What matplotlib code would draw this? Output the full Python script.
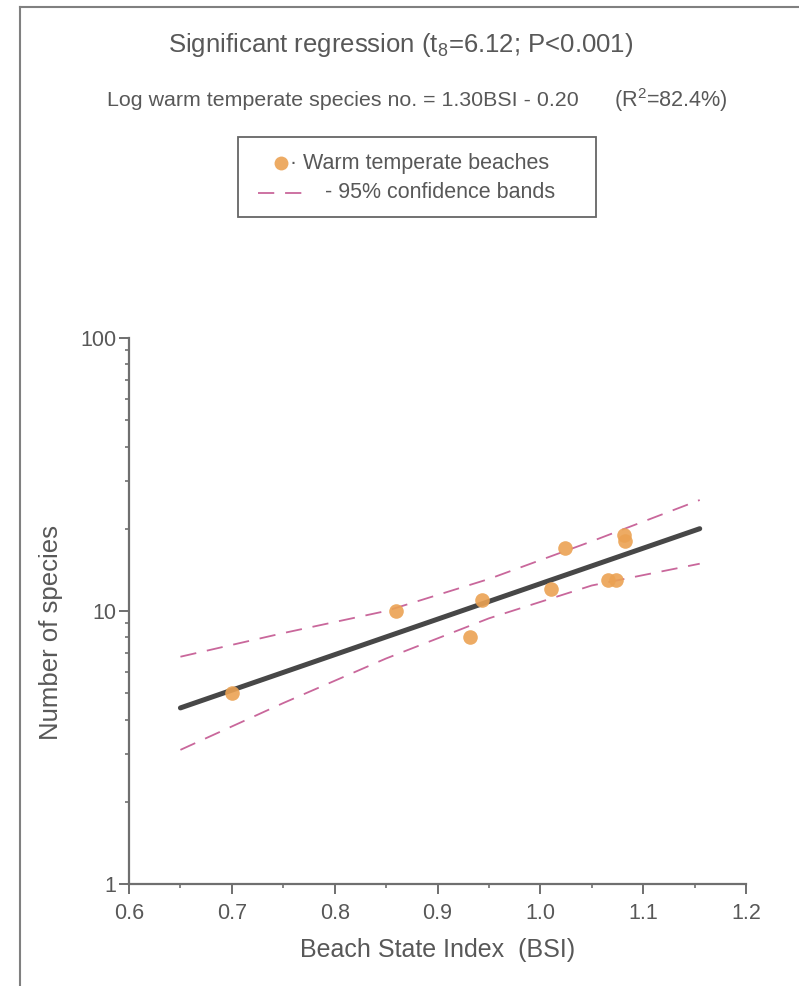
import numpy as np
import matplotlib
matplotlib.use("Agg")
import matplotlib.pyplot as plt
from matplotlib.lines import Line2D
from matplotlib.patches import Rectangle

plt.rcParams["font.family"] = ["Liberation Sans", "DejaVu Sans"]
plt.rcParams["mathtext.fontset"] = "custom"
plt.rcParams["mathtext.rm"] = "Liberation Sans"

# warm temperate beaches: beach state index vs species count
bsi = [0.700, 0.860, 0.932, 0.943, 1.010, 1.024, 1.066, 1.074, 1.082, 1.081]
species = [5, 10, 8, 11, 12, 17, 13, 13, 18, 19]

# fitted line: log10(N) = 1.30*BSI - 0.20
slope, intercept = 1.30, -0.20
fit_x = np.array([0.65, 1.155])

# 95% confidence bands
band_x = [0.65, 0.75, 0.85, 0.95, 1.05, 1.155]
band_upper = [6.8, 8.3, 10.0, 13.1, 18.0, 25.5]
band_lower = [3.1, 4.6, 6.7, 9.4, 12.4, 14.9]

xticks = [0.6, 0.7, 0.8, 0.9, 1.0, 1.1, 1.2]
yticks = [1, 10, 100]

TXT = "#585858"
AXC = "#6f6f6f"
DOT = "#EBA253"
BAND = "#C9679B"

W, H = 799, 986
fig = plt.figure(figsize=(W / 100, H / 100), dpi=100)
fig.patch.set_facecolor("white")

ax_bottom, ax_top = 884, 338
ax = fig.add_axes([129 / W, (H - ax_bottom) / H, (746 - 129) / W, (ax_bottom - ax_top) / H])
ax.set_yscale("log")
ax.set_xlim(0.6, 1.2)
ax.set_ylim(1, 100)

fit_y = 10 ** (slope * fit_x + intercept)
ax.plot(fit_x, fit_y, color="#474747", lw=3.6, solid_capstyle="round", zorder=3)
ax.plot(band_x, band_upper, color=BAND, lw=1.3, dashes=(9, 6), zorder=2)
ax.plot(band_x, band_lower, color=BAND, lw=1.3, dashes=(9, 6), zorder=2)
ax.plot(bsi, species, "o", ms=10.5, color=DOT, mec="none", alpha=0.9, zorder=4)

for s in ["top", "right"]:
    ax.spines[s].set_visible(False)
for s in ["left", "bottom"]:
    ax.spines[s].set_color(AXC)
    ax.spines[s].set_linewidth(1.6)

ax.set_xticks(xticks)
ax.set_xticklabels([f"{v:.1f}" for v in xticks])
ax.set_xticks(np.arange(0.65, 1.2, 0.1), minor=True)
ax.set_yticks(yticks)
ax.set_yticklabels([str(v) for v in yticks])
ax.tick_params(axis="both", which="major", direction="out", length=7, width=1.4,
               color=AXC, labelcolor=TXT, labelsize=15.5)
ax.tick_params(axis="x", which="major", pad=7)
ax.tick_params(axis="y", which="major", pad=2)
ax.tick_params(axis="both", which="minor", direction="out", length=3, width=1.2,
               color=AXC)
ax.set_xlabel("Beach State Index  (BSI)", fontsize=18, color=TXT, labelpad=10)
ax.set_ylabel("Number of species", fontsize=18.5, color=TXT)
# label sits a little below the axis middle
ax.yaxis.set_label_coords((63 - 129) / (746 - 129), (ax_bottom - 632) / (ax_bottom - ax_top))

# headings
fig.text(401 / W, 1 - 45 / H, r"Significant regression (t$_{\mathregular{8}}$=6.12; P<0.001)",
         ha="center", va="center", fontsize=18.5, color=TXT)
fig.text(107 / W, 1 - 100 / H, "Log warm temperate species no. = 1.30BSI - 0.20",
         ha="left", va="center", fontsize=15.4, color=TXT)
fig.text(614 / W, 1 - 100 / H, r"(R$^{\mathregular{2}}$=82.4%)",
         ha="left", va="center", fontsize=15.6, color=TXT)

# legend box
fig.add_artist(Rectangle((238 / W, 1 - 217 / H), (596 - 238) / W, 80 / H,
                         transform=fig.transFigure, fill=False, ec="#666666", lw=1.3))
fig.add_artist(Line2D([281 / W], [1 - 163 / H], marker="o", ms=10, color=DOT,
                      mec="none", alpha=0.9, transform=fig.transFigure))
fig.text(290 / W, 1 - 163 / H, "· Warm temperate beaches", ha="left", va="center",
         fontsize=15.5, color=TXT)
fig.add_artist(Line2D([258 / W, 302 / W], [1 - 193 / H, 1 - 193 / H], color=BAND,
                      lw=1.3, dashes=(9, 6), transform=fig.transFigure))
fig.text(325 / W, 1 - 193 / H, "- 95% confidence bands", ha="left", va="center",
         fontsize=15.5, color=TXT)

# page frame (top and left edges)
fig.add_artist(Line2D([20 / W, 20 / W], [0, 1 - 7 / H], color="#808080", lw=1.5,
                      transform=fig.transFigure))
fig.add_artist(Line2D([20 / W, 1], [1 - 7 / H, 1 - 7 / H], color="#808080", lw=1.5,
                      transform=fig.transFigure))

fig.savefig("out.png", dpi=100)
